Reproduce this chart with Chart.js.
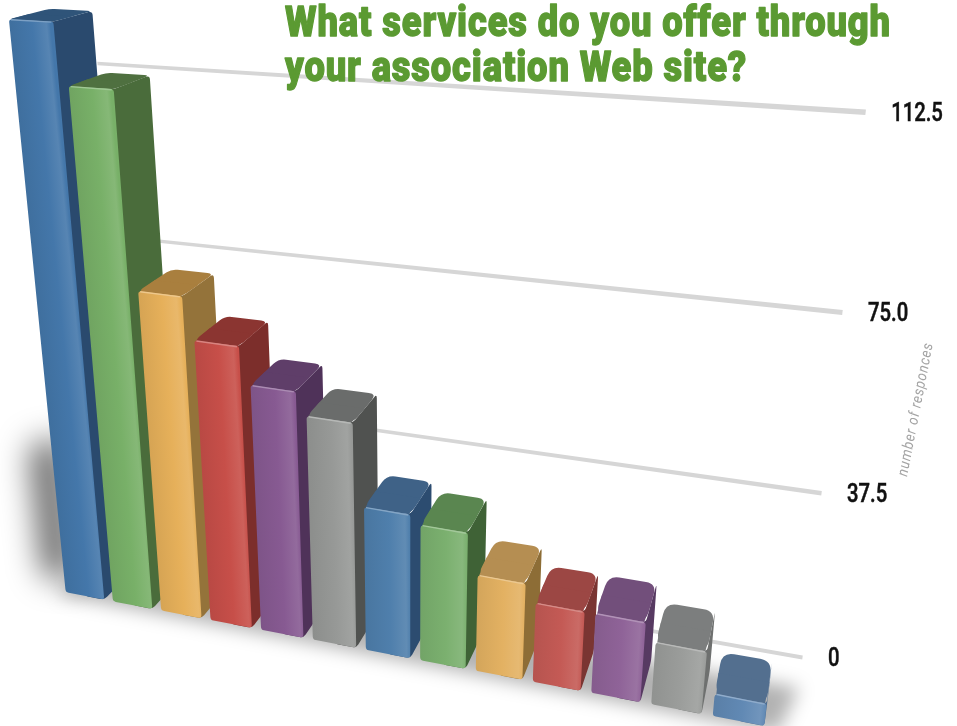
<!DOCTYPE html>
<html>
<head>
<meta charset="utf-8">
<title>What services do you offer through your association Web site?</title>
<style>
  html, body { margin: 0; padding: 0; background: #fff; }
  canvas { display: block; }
</style>
<script src="https://cdn.jsdelivr.net/npm/chart.js@4"></script>
</head>
<body>
<canvas id="myChart" width="957" height="726"></canvas>
<script>
const services = ['1', '2', '3', '4', '5', '6', '7', '8', '9', '10', '11', '12', '13'];
const responses = [125, 113, 73, 64, 56, 51, 33, 31, 22, 18, 18, 14, 5];
const yMax = 125;
const yStep = 37.5;

const titleLines = ['What services do you offer through', 'your association Web site?'];
const axisTitle = 'number of responces';

const frontColors = ['#4477aa', '#78b068', '#e6b05a', '#c74f49', '#875a92', '#979997',
                     '#4f7fac', '#7bb06f', '#e3b162', '#c45a55', '#8f6398', '#9b9d9b', '#6189b4'];
const topColors = ['#2f5479', '#4f7040', '#a97f3e', '#8b3531', '#5f3e69', '#6a6c6b',
                   '#3f6287', '#5a8650', '#b58e52', '#9c4744', '#724f7b', '#7c7e7e', '#536f8f'];
const sideColors = ['#2a4a6e', '#4a6c3b', '#94733a', '#7c2e2b', '#4f3259', '#505250',
                    '#2c4c70', '#3f6236', '#8d6d36', '#7a3532', '#573a62', '#6e706f', '#4d6c90'];

// perspective camera: u along the categories, v up the value axis, w into the page
const cam = {
  a: 596.3, b: -57.99, k: 36.9, c: 61.5,
  d: 29.5, e: -575.2, l: -8.53, f: 591.5,
  g: -0.1458, h: -0.1418, m: 0.042
};
const barDepth = 1;
const wallDepth = 1.75;
const wallEnd = 1.031;

function project(u, v, w) {
  const q = cam.g * u + cam.h * v + cam.m * w + 1;
  return {
    x: (cam.a * u + cam.b * v + cam.k * w + cam.c) / q,
    y: (cam.d * u + cam.e * v + cam.l * w + cam.f) / q
  };
}

// polygon whose corners are cut back along both edges and curved through the corner
function polygon(ctx, pts, radius) {
  const n = pts.length;
  ctx.beginPath();
  pts.forEach((p, i) => {
    if (!radius) {
      if (i) ctx.lineTo(p.x, p.y); else ctx.moveTo(p.x, p.y);
      return;
    }
    const prev = pts[(i + n - 1) % n];
    const next = pts[(i + 1) % n];
    const toward = (q) => {
      const len = Math.hypot(q.x - p.x, q.y - p.y);
      const d = Math.min(radius, len / 2.5);
      return { x: p.x + (q.x - p.x) * d / len, y: p.y + (q.y - p.y) * d / len };
    };
    const a = toward(prev), b = toward(next);
    if (i) ctx.lineTo(a.x, a.y); else ctx.moveTo(a.x, a.y);
    ctx.quadraticCurveTo(p.x, p.y, b.x, b.y);
  });
  ctx.closePath();
}

function mix(hex, other, t) {
  const read = (c, i) => parseInt(c.substr(1 + i * 2, 2), 16);
  const out = [0, 1, 2].map(i => Math.round(read(hex, i) * (1 - t) + read(other, i) * t));
  return 'rgb(' + out.join(',') + ')';
}

// soft shadows on the floor and behind the first bar
function drawShadows(ctx) {
  ctx.save();
  ctx.filter = 'blur(16px)';
  ctx.fillStyle = 'rgba(0,0,0,0.62)';
  polygon(ctx, [project(-0.035, 0.02, 0.1), project(0.02, 0.02, 0.1), project(0.02, 0.3, 0.1), project(-0.035, 0.27, 0.1)]);
  ctx.fill();
  ctx.filter = 'blur(9px)';
  ctx.fillStyle = 'rgba(0,0,0,0.3)';
  polygon(ctx, [project(0, 0, -0.09), project(1.01, 0, -0.09), project(1.03, 0, 1), project(0, 0, 1)]);
  ctx.fill();
  ctx.restore();
}

function drawGrid(chart, ctx) {
  const scale = chart.scales.y;
  const area = chart.chartArea;
  ctx.save();
  ctx.fillStyle = '#d6d6d6';
  scale.ticks.forEach(t => {
    const v = (area.bottom - scale.getPixelForValue(t.value)) / (area.bottom - area.top);
    polygon(ctx, [
      project(0.03, v + 0.003, wallDepth),
      project(wallEnd, v + 0.004, wallDepth),
      project(wallEnd, v - 0.004, wallDepth),
      project(0.03, v - 0.003, wallDepth)
    ]);
    ctx.fill();
  });
  ctx.restore();
}

// one box per bar element: right side, then top, then the front face
function drawBar(chart, ctx, bar, i) {
  const area = chart.chartArea;
  const w = area.right - area.left;
  const h = area.bottom - area.top;
  const u0 = (bar.x - bar.width / 2 - area.left) / w;
  const u1 = (bar.x + bar.width / 2 - area.left) / w;
  const um = (u0 + u1) / 2;
  const v = (area.bottom - bar.y) / h;

  const fBL = project(u0, 0, 0), fBR = project(u1, 0, 0);
  const fTL = project(u0, v, 0), fTR = project(u1, v, 0);
  const bTL = project(u0, v, barDepth), bTR = project(u1, v, barDepth);
  const bBR = project(u1, 0, barDepth);
  const base = frontColors[i];

  // the side reaches in under the front so its rounding never shows white
  ctx.fillStyle = sideColors[i];
  polygon(ctx, [project(um, v, 0), fTR, bTR, bBR, fBR, project(um, 0, 0)], 4);
  ctx.fill();

  ctx.fillStyle = topColors[i];
  polygon(ctx, [fTL, fTR, bTR, bTL], 5 + 7 * (i / 12));
  ctx.fill();
  polygon(ctx, [project(u0 + 0.002, v, 0), project(u1 - 0.002, v, 0), {
    x: (fTR.x + bTR.x) / 2, y: (fTR.y + bTR.y) / 2
  }, {
    x: (fTL.x + bTL.x) / 2, y: (fTL.y + bTL.y) / 2
  }]);
  ctx.fill();

  // front face, shaded across its width in the bar's own skewed frame
  const grad = ctx.createLinearGradient(0, 0, 1, 0);
  grad.addColorStop(0, mix(base, '#000000', 0.07));
  grad.addColorStop(0.55, base);
  grad.addColorStop(0.9, mix(base, '#ffffff', 0.1));
  grad.addColorStop(1, base);
  ctx.save();
  polygon(ctx, [fTL, fTR, fBR, fBL], 3);
  ctx.clip();
  const across = { x: (fTR.x + fBR.x - fTL.x - fBL.x) / 2, y: (fTR.y + fBR.y - fTL.y - fBL.y) / 2 };
  const down = { x: fBL.x - fTL.x, y: fBL.y - fTL.y };
  ctx.transform(across.x, across.y, down.x, down.y, fTL.x, fTL.y);
  ctx.fillStyle = grad;
  ctx.fillRect(-0.5, -0.5, 2, 2);
  ctx.restore();

  // light edge where the front meets the top
  ctx.strokeStyle = mix(base, '#ffffff', 0.3);
  ctx.lineWidth = 1.4;
  ctx.beginPath();
  ctx.moveTo(fTL.x + 2, fTL.y + 0.5);
  ctx.lineTo(fTR.x - 2, fTR.y + 0.5);
  ctx.stroke();
}

const perspectivePlugin = {
  id: 'perspective',
  beforeDatasetsDraw(chart) {
    const ctx = chart.ctx;
    ctx.save();
    ctx.fillStyle = '#fff';
    ctx.fillRect(0, 0, chart.width, chart.height);
    ctx.restore();
    drawShadows(ctx);
    drawGrid(chart, ctx);
  },
  beforeDatasetDraw(chart, args) {
    const ctx = chart.ctx;
    ctx.save();
    args.meta.data.forEach((bar, i) => drawBar(chart, ctx, bar, i));
    ctx.restore();
    return false;
  },
  afterDraw(chart) {
    const ctx = chart.ctx;
    const scale = chart.scales.y;
    const area = chart.chartArea;

    // tick labels sit just past the right end of each wall line
    ctx.save();
    ctx.textBaseline = 'middle';
    ctx.textAlign = 'left';
    ctx.fillStyle = '#111';
    ctx.strokeStyle = '#111';
    ctx.lineWidth = 0.5;
    ctx.font = '500 26px Roboto';
    scale.ticks.forEach(t => {
      const v = (area.bottom - scale.getPixelForValue(t.value)) / (area.bottom - area.top);
      const end = project(wallEnd, v, wallDepth);
      const label = t.value === 0 ? '0' : t.value.toFixed(1);
      ctx.save();
      ctx.translate(end.x + 25.5, end.y + 2);
      ctx.scale(0.78, 1);
      ctx.fillText(label, 0, 0);
      ctx.strokeText(label, 0, 0);
      ctx.restore();
    });
    ctx.restore();

    ctx.save();
    ctx.translate(907, 477);
    ctx.rotate(-79 * Math.PI / 180);
    ctx.textBaseline = 'alphabetic';
    ctx.fillStyle = '#a4a4a4';
    ctx.font = 'italic 400 15px Roboto';
    ctx.letterSpacing = '0.8px';
    ctx.scale(136 / ctx.measureText(axisTitle).width, 1);
    ctx.fillText(axisTitle, 0, 0);
    ctx.restore();

    ctx.save();
    ctx.fillStyle = '#5b9a32';
    ctx.strokeStyle = '#5b9a32';
    ctx.lineWidth = 1.3;
    ctx.lineJoin = 'round';
    ctx.font = '900 43px Roboto';
    ctx.letterSpacing = '1px';
    ctx.textBaseline = 'alphabetic';
    const sx = 606 / ctx.measureText(titleLines[0]).width;
    titleLines.forEach((line, i) => {
      ctx.save();
      ctx.translate(285, 36 + i * 45);
      ctx.scale(sx, 1);
      ctx.fillText(line, 0, 0);
      ctx.strokeText(line, 0, 0);
      ctx.restore();
    });
    ctx.restore();
  }
};

const data = {
  labels: services,
  datasets: [{
    label: 'number of responces',
    data: responses,
    backgroundColor: frontColors,
    barPercentage: 0.82,
    categoryPercentage: 1
  }]
};

const config = {
  type: 'bar',
  data: data,
  plugins: [perspectivePlugin],
  options: {
    responsive: false,
    animation: false,
    layout: { padding: 0 },
    plugins: { legend: { display: false }, tooltip: { enabled: false } },
    scales: {
      x: { grid: { display: false }, border: { display: false }, ticks: { display: false } },
      y: {
        min: 0,
        max: yMax,
        grid: { display: false },
        border: { display: false },
        ticks: { display: false, stepSize: yStep, includeBounds: false, autoSkip: false }
      }
    }
  }
};

const myChart = new Chart(document.getElementById('myChart').getContext('2d'), config);
</script>
</body>
</html>
